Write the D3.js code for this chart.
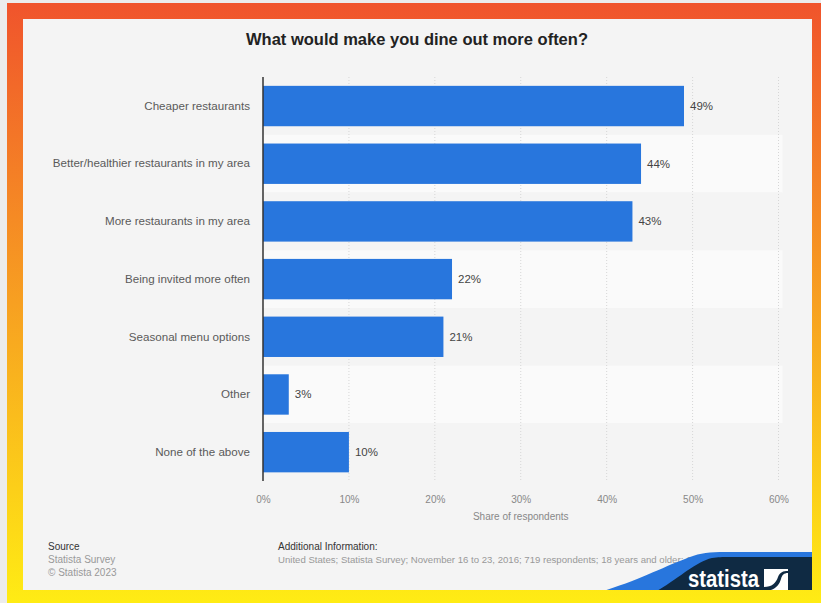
<!DOCTYPE html>
<html>
<head>
<meta charset="utf-8">
<script src="https://cdn.jsdelivr.net/npm/d3@7"></script>
<style>
  html, body { margin: 0; padding: 0; background: #ececec; }
  svg { display: block; }
  text { font-family: "Liberation Sans", Arial, Helvetica, sans-serif; }
</style>
</head>
<body>
<svg id="chart" width="821" height="603"></svg>
<script>
const categories = [
  "Cheaper restaurants",
  "Better/healthier restaurants in my area",
  "More restaurants in my area",
  "Being invited more often",
  "Seasonal menu options",
  "Other",
  "None of the above"
];
const values = [49, 44, 43, 22, 21, 3, 10];
const tickValues = [0, 10, 20, 30, 40, 50, 60];
const titleText = "What would make you dine out more often?";
const axisTitle = "Share of respondents";
const sourceLines = ["Source", "Statista Survey", "© Statista 2023"];
const infoLines = ["Additional Information:", "United States; Statista Survey; November 16 to 23, 2016; 719 respondents; 18 years and older; Online survey"];

const svg = d3.select("#chart");
const W = 821, H = 603;

// Frame gradient
const defs = svg.append("defs");
const grad = defs.append("linearGradient").attr("id", "frameGrad")
  .attr("x1", 0).attr("y1", 0).attr("x2", 0).attr("y2", 1);
grad.append("stop").attr("offset", "0%").attr("stop-color", "#f0542c");
grad.append("stop").attr("offset", "50%").attr("stop-color", "#f7a021");
grad.append("stop").attr("offset", "100%").attr("stop-color", "#ffec14");

svg.append("rect").attr("x", 0).attr("y", 0).attr("width", W).attr("height", H).attr("fill", "#ececec");
svg.append("rect").attr("x", 7).attr("y", 3).attr("width", W - 7).attr("height", H - 3).attr("fill", "url(#frameGrad)");

const panel = { x: 23, y: 19, w: 789, h: 571 };
defs.append("clipPath").attr("id", "panelClip").append("rect")
  .attr("x", panel.x).attr("y", panel.y).attr("width", panel.w).attr("height", panel.h);
const g0 = svg.append("g").attr("clip-path", "url(#panelClip)");
g0.append("rect").attr("x", panel.x).attr("y", panel.y).attr("width", panel.w).attr("height", panel.h).attr("fill", "#f4f4f4");

// Title
g0.append("text").attr("x", 417).attr("y", 45).attr("text-anchor", "middle")
  .attr("font-size", 16.5).attr("font-weight", "bold").attr("fill", "#222").text(titleText);

// Scales
const x = d3.scaleLinear().domain([0, 60]).range([263, 778.5]);
const y = d3.scaleBand().domain(categories).range([77.2, 481]).paddingInner(0.3).paddingOuter(0.15);
const rowStep = y.step();
const rowStart = 77.2;

// Alternating row backgrounds
g0.append("g").selectAll("rect").data(categories).join("rect")
  .attr("x", x(0)).attr("width", x(60) - x(0) + 4)
  .attr("y", (d, i) => rowStart + i * rowStep)
  .attr("height", rowStep)
  .attr("fill", (d, i) => i % 2 === 1 ? "#fafafa" : "#f4f4f4");

// Gridlines
g0.append("g").selectAll("line").data(tickValues.slice(1)).join("line")
  .attr("x1", d => x(d)).attr("x2", d => x(d))
  .attr("y1", 77).attr("y2", 481)
  .attr("stroke", "#d6d6d6").attr("stroke-width", 1).attr("stroke-dasharray", "1,2");

// Bars
g0.append("g").selectAll("rect").data(values).join("rect")
  .attr("x", x(0))
  .attr("y", (d, i) => y(categories[i]))
  .attr("width", d => x(d) - x(0))
  .attr("height", y.bandwidth())
  .attr("fill", "#2876dd");

// Value labels
g0.append("g").selectAll("text").data(values).join("text")
  .attr("x", d => x(d) + 6)
  .attr("y", (d, i) => y(categories[i]) + y.bandwidth() / 2 + 4)
  .attr("font-size", 11.5).attr("fill", "#444")
  .text(d => d + "%");

// Y axis
const yAxis = d3.axisLeft(y).tickSize(0).tickPadding(13);
const yg = g0.append("g").attr("transform", `translate(${x(0)},0)`).call(yAxis);
yg.select(".domain").remove();
yg.selectAll("text").attr("font-size", 11.6).attr("fill", "#5a5a5a")
  .style("font-family", '"Liberation Sans", Arial, sans-serif');
g0.append("line").attr("x1", x(0)).attr("x2", x(0)).attr("y1", 77).attr("y2", 481)
  .attr("stroke", "#333").attr("stroke-width", 1.5);

// X axis
const xAxis = d3.axisBottom(x).tickValues(tickValues).tickFormat(d => d + "%").tickSize(0).tickPadding(12);
const xg = g0.append("g").attr("transform", `translate(0,484)`).call(xAxis);
xg.select(".domain").remove();
xg.selectAll("text").attr("font-size", 10).attr("fill", "#888")
  .style("font-family", '"Liberation Sans", Arial, sans-serif');

g0.append("text").attr("x", (x(0) + x(60)) / 2).attr("y", 520).attr("text-anchor", "middle")
  .attr("font-size", 10).attr("fill", "#888").text(axisTitle);

// Footer
g0.append("g").selectAll("text").data(sourceLines).join("text")
  .attr("x", 48).attr("y", (d, i) => 550 + i * 13)
  .attr("font-size", 10).attr("fill", (d, i) => i === 0 ? "#333" : "#999").text(d => d);
g0.append("g").selectAll("text").data(infoLines).join("text")
  .attr("x", 278).attr("y", (d, i) => 550 + i * 13)
  .attr("font-size", (d, i) => i === 0 ? 10 : 9.6).attr("fill", (d, i) => i === 0 ? "#333" : "#999").text(d => d);

// Statista logo
const logo = g0.append("g");
logo.append("path")
  .attr("d", "M600,592 C640,580 665,566 690,557 C700,553 710,552 725,552 L812,552 L812,592 Z")
  .attr("fill", "#2876dd");
logo.append("path")
  .attr("d", "M655,592 C680,578 695,562 712,558 C718,557 722,557 730,557 L812,557 L812,592 Z")
  .attr("fill", "#0f2a43");
logo.append("text").attr("x", 688).attr("y", 587)
  .attr("font-size", 23).attr("font-weight", "bold").attr("fill", "#ffffff")
  .attr("textLength", 71).attr("lengthAdjust", "spacingAndGlyphs")
  .text("statista");
// icon
logo.append("rect").attr("x", 764).attr("y", 569).attr("width", 24).attr("height", 22).attr("fill", "#ffffff");
logo.append("path")
  .attr("d", "M764,587 C772,587 776,583 778,577 C780,572 783,571 788,571 L788,573 C784,573 782,575 781,579 C779,586 774,591 764,591 Z")
  .attr("fill", "#0f2a43");
</script>
</body>
</html>
